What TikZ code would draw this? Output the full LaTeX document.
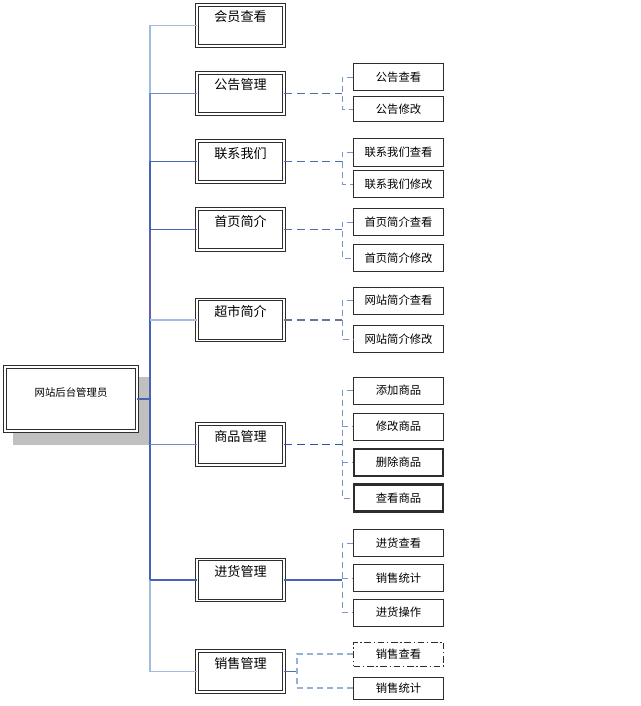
\documentclass[tikz,border=0pt]{standalone}
\usepackage{fontspec}
\setmainfont{Noto Sans CJK SC}
\definecolor{lb}{RGB}{160,188,222}
\definecolor{mb}{RGB}{110,140,200}
\definecolor{db}{RGB}{70,100,180}
\definecolor{pb}{RGB}{96,96,176}
\definecolor{dashA}{RGB}{80,110,170}
\definecolor{dashS}{RGB}{100,120,150}
\definecolor{dashV}{RGB}{50,80,180}
\definecolor{dashL}{RGB}{150,176,214}
\definecolor{brk}{RGB}{120,150,200}
\definecolor{shadowgray}{RGB}{192,192,192}
\definecolor{boxline}{RGB}{45,45,45}
\begin{document}
\begin{tikzpicture}[x=0.75pt,y=-0.75pt,
  l1/.style={draw=boxline, double=white, double distance=1.3pt, line width=0.7pt,
    fill=white, minimum width=65.25pt, inner sep=0pt, text height=12.75pt, text depth=18pt,
    font=\fontsize{9.8pt}{12pt}\selectfont},
  rootbox/.style={l1, minimum width=99pt, text height=21.75pt, text depth=26.25pt,
    font=\fontsize{7.8pt}{10pt}\selectfont},
  l2/.style={draw=boxline, line width=0.75pt, fill=white, minimum width=67.5pt,
    minimum height=20.25pt, inner sep=0pt, font=\fontsize{8.5pt}{10pt}\selectfont},
  l2thick/.style={l2, line width=1.6pt, minimum width=66.5pt},
  l2dd/.style={l2, dash pattern=on 5pt off 2pt on 1pt off 2pt},
  trunk/.style={line width=1pt},
  branch/.style={line width=0.8pt},
  hdash/.style={line width=1pt, dash pattern=on 6pt off 3.5pt},
  bdash/.style={line width=0.6pt, brk, dash pattern=on 4.5pt off 3pt},
]
\useasboundingbox (0,0) rectangle (640,706);
% shadow of root
\fill[shadowgray] (13,377) rectangle (149,445);
\node[rootbox] (root) at (71,399) {网站后台管理员};

% level 1
\node[l1] (m1) at (240.5,25.5) {会员查看};
\node[l1] (m2) at (240.5,93.5) {公告管理};
\node[l1] (m3) at (240.5,161.5) {联系我们};
\node[l1] (m4) at (240.5,229.5) {首页简介};
\node[l1] (m5) at (240.5,320) {超市简介};
\node[l1] (m6) at (240.5,444.5) {商品管理};
\node[l1] (m7) at (240.5,580) {进货管理};
\node[l1] (m8) at (240.5,671.5) {销售管理};

% level 2
\node[l2] (a1) at (398.5,77.5) {公告查看};
\node[l2, minimum height=18.75pt] (a2) at (398.5,109.5) {公告修改};
\node[l2] (b1) at (398.5,152.5) {联系我们查看};
\node[l2] (b2) at (398.5,184) {联系我们修改};
\node[l2] (c1) at (398.5,222) {首页简介查看};
\node[l2] (c2) at (398.5,258) {首页简介修改};
\node[l2] (d1) at (398.5,300.5) {网站简介查看};
\node[l2] (d2) at (398.5,339) {网站简介修改};
\node[l2] (e1) at (398.5,390.5) {添加商品};
\node[l2] (e2) at (398.5,426.5) {修改商品};
\node[l2thick] (e3) at (398.5,462.5) {删除商品};
\node[l2thick] (e4) at (398.5,498) {查看商品};
\node[l2] (f1) at (398.5,543) {进货查看};
\node[l2] (f2) at (398.5,578) {销售统计};
\node[l2] (f3) at (398.5,612.5) {进货操作};
\node[l2dd, minimum height=18pt] (g1) at (398.5,654) {销售查看};
\node[l2, minimum height=16.5pt] (g2) at (398.5,688) {销售统计};

% trunk
\coordinate (T) at (150,0);
\coordinate (B) at (342,0);
\coordinate (B2) at (297,0);
\draw[trunk, db] (root.east) -- (root.east -| T);
\draw[trunk, lb] (m1.west -| T) -- (m2.west -| T);
\draw[trunk, mb] (m2.west -| T) -- (m3.west -| T);
\draw[trunk, db] (m3.west -| T) -- (m4.west -| T);
\draw[trunk, pb] (m4.west -| T) -- (m5.west -| T);
\draw[trunk, db] (m5.west -| T) -- (m6.west -| T);
\draw[trunk, db] (m6.west -| T) -- (m7.west -| T);
\draw[trunk, lb] (m7.west -| T) -- (m8.west -| T);

\draw[branch, lb] (m1.west -| T) -- (m1.west);
\draw[branch, mb] (m2.west -| T) -- (m2.west);
\draw[branch, db] (m3.west -| T) -- (m3.west);
\draw[branch, db] (m4.west -| T) -- (m4.west);
\draw[branch, lb] (m5.west -| T) -- (m5.west);
\draw[branch, mb] (m6.west -| T) -- (m6.west);
\draw[branch, db] (m7.west -| T) -- (m7.west);
\draw[branch, lb] (m8.west -| T) -- (m8.west);

% 公告管理
\draw[hdash, dashA] (m2.east) -- (m2.east -| B);
\draw[bdash] (a1.west) -- (a1.west -| B) -- (a2.west -| B) -- (a2.west);
% 联系我们
\draw[hdash, dashA] (m3.east) -- (m3.east -| B);
\draw[bdash] (b1.west) -- (b1.west -| B) -- (b2.west -| B) -- (b2.west);
% 首页简介
\draw[hdash, dashA] (m4.east) -- (m4.east -| B);
\draw[bdash] (c1.west) -- (c1.west -| B) -- (c2.west -| B) -- (c2.west);
% 超市简介
\draw[hdash, dashS] (m5.east) -- (m5.east -| B);
\draw[bdash] (d1.west) -- (d1.west -| B) -- (d2.west -| B) -- (d2.west);
% 商品管理
\draw[hdash, dashV] (m6.east) -- (m6.east -| B);
\draw[bdash] (e1.west) -- (e1.west -| B) -- (e4.west -| B) -- (e4.west);
\draw[bdash] (e2.west -| B) -- (e2.west);
\draw[bdash] (e3.west -| B) -- (e3.west);
% 进货管理
\draw[branch, db] (m7.east) -- (m7.east -| B);
\draw[bdash] (f1.west) -- (f1.west -| B) -- (f3.west -| B) -- (f3.west);
\draw[bdash] (f2.west -| B) -- (f2.west);
% 销售管理
\draw[line width=1.4pt, dashA] (m8.east) -- (m8.east -| B2);
\draw[bdash, dashL, line width=0.8pt] (g1.west) -- (g1.west -| B2) -- (g2.west -| B2) -- (g2.west);
\end{tikzpicture}
\end{document}
